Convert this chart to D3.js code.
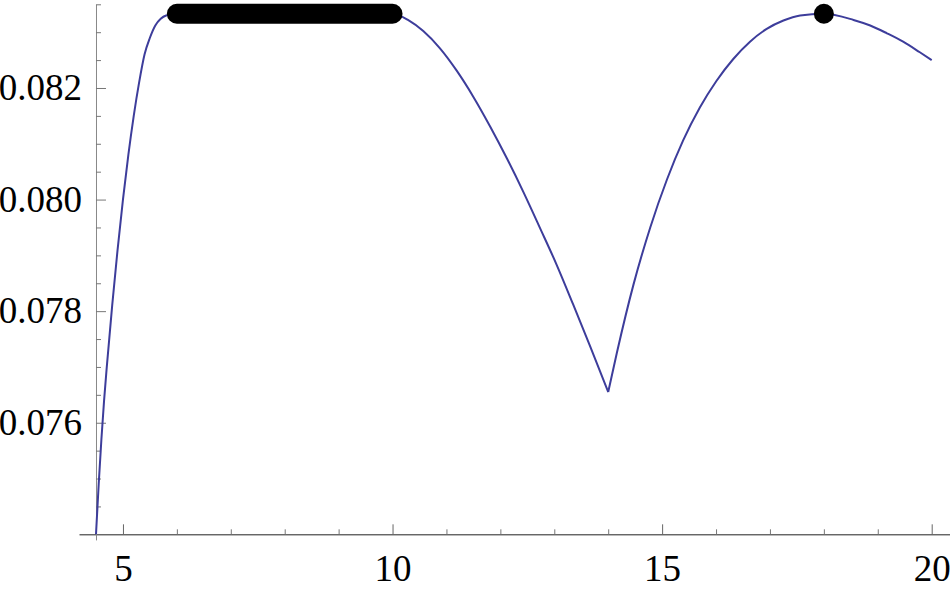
<!DOCTYPE html>
<html>
<head>
<meta charset="utf-8">
<script src="https://cdn.jsdelivr.net/npm/d3@7"></script>
<style>
    body { margin: 0; background: #fff; }
</style>
</head>
<body>
<div class="graph"></div>
<script>
// curve, split at the kink at x = 14
var leftX = [4.5, 4.55, 4.6, 4.65, 4.7, 4.8, 4.9, 5.0, 5.1, 5.2, 5.3, 5.4, 5.5, 5.6, 5.7, 5.8, 6.0, 8.0, 10.0,
    10.3, 10.57, 10.88, 11.19, 11.5, 11.81, 12.12, 12.43, 12.74, 13.04, 13.35, 13.66, 14.0];
var leftY = [0.0740, 0.0749, 0.0757, 0.0764, 0.0770, 0.0781, 0.0791, 0.0800, 0.0808, 0.0815, 0.0821, 0.0826, 0.0829, 0.08312, 0.08324, 0.08330, 0.08333, 0.08333, 0.08333,
    0.08321, 0.08302, 0.08271, 0.08231, 0.08184, 0.08131, 0.08074, 0.08013, 0.07948, 0.07884, 0.07812, 0.07738, 0.07655];
var rightX = [14.0, 14.16, 14.47, 14.78, 15.09, 15.39, 15.70, 16.01, 16.32, 16.63, 16.94, 17.25, 17.56, 18.0,
    18.55, 18.86, 19.17, 19.47, 19.78, 20.0];
var rightY = [0.07655, 0.07725, 0.07848, 0.07950, 0.08036, 0.08106, 0.08165, 0.08213, 0.08252, 0.08283, 0.08306, 0.08321, 0.08330, 0.08333,
    0.08322, 0.08312, 0.08298, 0.08283, 0.08264, 0.0825];

// highlighted optimum: a range and a single point
var optimumRange = [6, 10];
var optimumValue = 0.08333;
var peakX = [18];
var peakY = [0.08333];

// ticks
var xMajorTicks = [5, 10, 15, 20];
var xMinorTicks = [6, 7, 8, 9, 11, 12, 13, 14, 16, 17, 18, 19];
var yMajorTicks = [0.076, 0.078, 0.080, 0.082];
var yMinorTicks = [0.0745, 0.075, 0.0755, 0.0765, 0.077, 0.0775, 0.0785, 0.079, 0.0795, 0.0805, 0.081, 0.0815, 0.0825, 0.083, 0.0835];

var labelFont = '"Liberation Serif", "DejaVu Serif", "Times New Roman", serif';
var width = 950, height = 589;
var svg = d3.select(".graph").append("svg")
    .attr("width", width)
    .attr("height", height);

// scales (axis lines run a little past the data on both ends)
var x = d3.scaleLinear().domain([4.1847, 20.3395]).range([79, 950]);
var y = d3.scaleLinear().domain([0.0739, 0.0835]).range([539.9, 4.3]);
var axisY = y(0.074);
var axisX = x(4.5);

// x axis
var xAxis = svg.append("g")
    .attr("transform", `translate(0, ${axisY})`)
    .attr("color", "#666")
    .call(d3.axisBottom(x).tickValues(xMajorTicks).tickSize(-10).tickSizeOuter(0).tickPadding(20));
xAxis.select(".domain").attr("stroke", "#222");
xAxis.selectAll("text")
    .attr("fill", "#000")
    .style("font-family", labelFont)
    .style("font-size", "37px");
svg.append("g")
    .attr("transform", `translate(0, ${axisY})`)
    .attr("color", "#777")
    .call(d3.axisBottom(x).tickValues(xMinorTicks).tickSize(-5).tickFormat(""))
    .select(".domain").remove();

// y axis
var yAxis = svg.append("g")
    .attr("transform", `translate(${axisX}, 0)`)
    .attr("color", "#777")
    .call(d3.axisLeft(y).tickValues(yMajorTicks).tickSize(-10).tickSizeOuter(0).tickPadding(14).tickFormat(d3.format(".3f")));
yAxis.select(".domain").attr("stroke", "#888");
yAxis.selectAll("text")
    .attr("fill", "#000")
    .style("font-family", labelFont)
    .style("font-size", "37px");
svg.append("g")
    .attr("transform", `translate(${axisX}, 0)`)
    .attr("color", "#777")
    .call(d3.axisLeft(y).tickValues(yMinorTicks).tickSize(-5).tickFormat(""))
    .select(".domain").remove();

// the curve
var line = d3.line()
    .x((d) => { return x(d[0]); })
    .y((d) => { return y(d[1]); })
    .curve(d3.curveMonotoneX);
var segments = [d3.zip(leftX, leftY), d3.zip(rightX, rightY)];
svg.selectAll(".curve")
    .data(segments)
    .enter().append("path")
    .attr("class", "curve")
    .attr("fill", "none")
    .attr("stroke", "#3d3d9b")
    .attr("stroke-width", 2)
    .attr("d", line);

// thick bar over the flat top
svg.append("line")
    .attr("x1", x(optimumRange[0]))
    .attr("x2", x(optimumRange[1]))
    .attr("y1", y(optimumValue))
    .attr("y2", y(optimumValue))
    .attr("stroke", "#000")
    .attr("stroke-width", 20)
    .attr("stroke-linecap", "round");

// dot at the second peak
svg.selectAll(".peak")
    .data(d3.zip(peakX, peakY))
    .enter().append("circle")
    .attr("class", "peak")
    .attr("cx", (d) => { return x(d[0]); })
    .attr("cy", (d) => { return y(d[1]); })
    .attr("r", 10)
    .attr("fill", "#000");
</script>
</body>
</html>
